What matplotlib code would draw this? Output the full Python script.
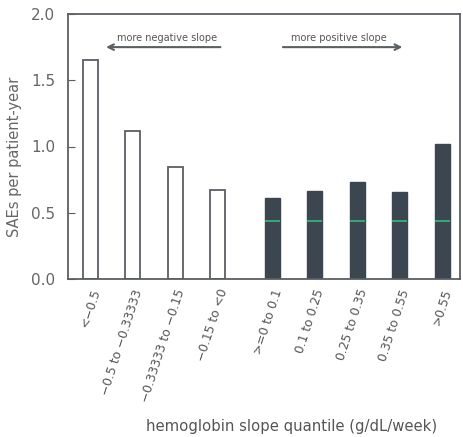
import numpy as np
import matplotlib
matplotlib.use("Agg")
import matplotlib.pyplot as plt

labels = ["<\u22120.5", "\u22120.5 to \u22120.33333", "\u22120.33333 to \u22120.15",
          "\u22120.15 to <0", ">=0 to 0.1", "0.1 to 0.25", "0.25 to 0.35",
          "0.35 to 0.55", ">0.55"]
rates = [1.65, 1.12, 0.845, 0.67, 0.61, 0.665, 0.735, 0.655, 1.02]
positive = [False, False, False, False, True, True, True, True, True]
ref_level = 0.44  # green line seen across the dark bars

grey = "#5a5f63"
dark = "#3b4650"

# a small extra gap between the negative and positive groups
x = np.arange(len(rates)) + np.where(positive, 0.28, 0.0)
w = 0.35

fig = plt.figure(figsize=(4.64, 4.37), dpi=100)
ax = fig.add_axes([68/464, 1-279/437, (460-68)/464, (279-14)/437])

for xi, r, p in zip(x, rates, positive):
    if p:
        ax.bar(xi, r, w, color=dark, edgecolor=dark, lw=1)
        ax.hlines(ref_level, xi - w/2, xi + w/2, color="#2fbf7a", lw=1.2, zorder=3)
    else:
        ax.bar(xi, r, w, color="white", edgecolor=grey, lw=1.3)

ax.set_xlim(-0.52, 8.7)
ax.set_ylim(0, 2.0)
ax.set_yticks([0, 0.5, 1.0, 1.5, 2.0])
ax.set_yticklabels(["0.0", "0.5", "1.0", "1.5", "2.0"])
ax.set_xticks(x)
ax.set_xticklabels(labels, rotation=72, ha="right", rotation_mode="anchor",
                   fontsize=8.8, color="#555")
ax.tick_params(axis="y", direction="in", length=5, color=grey, labelsize=11,
               labelcolor="#666", pad=9)
ax.tick_params(axis="x", length=0, pad=6)
for s in ax.spines.values():
    s.set_color(grey)
    s.set_linewidth(1.3)

ax.set_ylabel("SAEs per patient-year", fontsize=10.5, color="#666")
ax.yaxis.set_label_coords(-0.117, 0.46)
ax.set_xlabel("hemoglobin slope quantile (g/dL/week)", fontsize=10.7, color="#555")
ax.xaxis.set_label_coords(0.571, -0.53)

# direction arrows
ax.annotate("", xy=(0.31, 1.75), xytext=(3.13, 1.75),
            arrowprops=dict(arrowstyle="->", color=grey, lw=1.5))
ax.text(1.82, 1.78, "more negative slope", fontsize=7, color="#555",
        ha="center", va="bottom")
ax.annotate("", xy=(7.41, 1.75), xytext=(4.47, 1.75),
            arrowprops=dict(arrowstyle="->", color=grey, lw=1.5))
ax.text(5.85, 1.78, "more positive slope", fontsize=7, color="#555",
        ha="center", va="bottom")

fig.savefig("out.png", dpi=100)
